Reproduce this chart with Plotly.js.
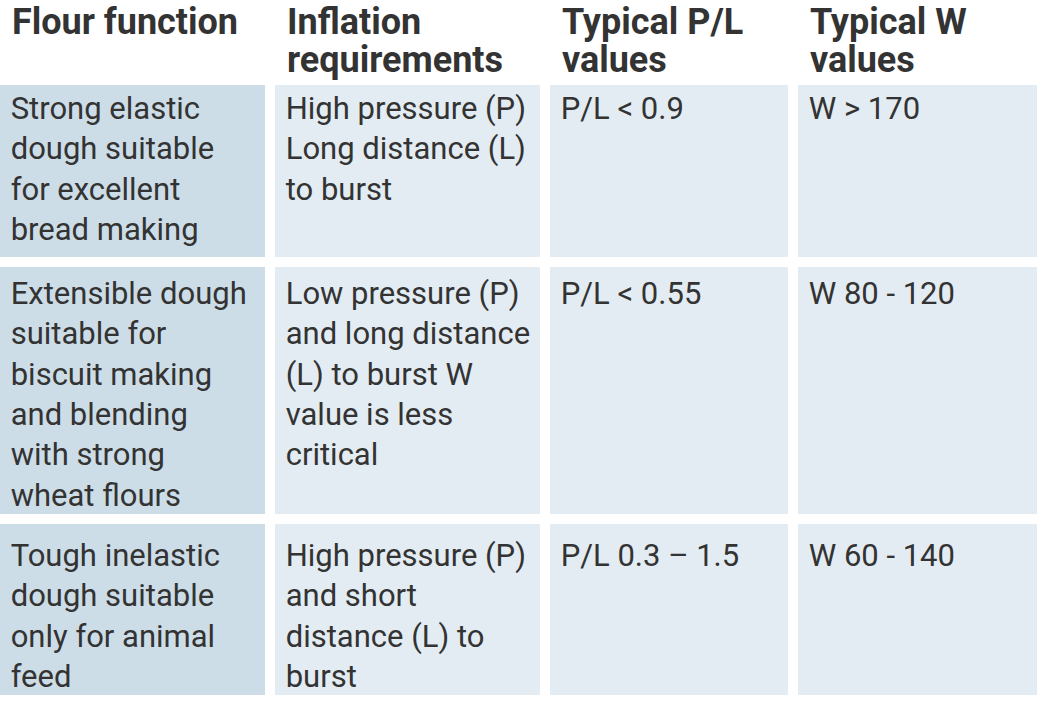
<!DOCTYPE html>
<html>
<head>
<meta charset="utf-8">
<script src="https://cdn.plot.ly/plotly-3.0.1.min.js"></script>
<style>
html, body { margin: 0; padding: 0; overflow: hidden; background: #ffffff; width: 1037px; height: 702px; position: relative; }
#chart { position: absolute; left: -5px; top: -20px; width: 1047px; height: 730px; }
</style>
</head>
<body>
<div id="chart"></div>
<script>
// ---- data ----
const headerLine1 = ["Flour function", "Inflation", "Typical P/L", "Typical W"];
const headerLine2 = ["", "requirements", "values", "values"];
const flourFunction = [
  "Strong elastic<br>dough suitable<br>for excellent<br>bread making",
  "Extensible dough<br>suitable for<br>biscuit making<br>and blending<br>with strong<br>wheat flours",
  "Tough inelastic<br>dough suitable<br>only for animal<br>feed"
];
const inflationRequirements = [
  "High pressure (P)<br>Long distance (L)<br>to burst",
  "Low pressure (P)<br>and long distance<br>(L) to burst W<br>value is less<br>critical",
  "High pressure (P)<br>and short<br>distance (L) to<br>burst"
];
const typicalPL = ["P/L < 0.9", "P/L < 0.55", "P/L 0.3 – 1.5"];
const typicalW = ["W > 170", "W 80 - 120", "W 60 - 140"];

// ---- styling / layout ----
const FIG_W = 1047, FIG_H = 730, OFFSET_Y = 20;
const firstColFill = "#cddde7";
const otherColFill = "#e3ecf2";
const textColor = "#333333";
const colWidths = [275, 275, 248, 249];
const PAD = "&nbsp;";
const headerTops = [-7, 31];          // page px of each header line box top
const rowTops = [80, 262, 519];       // page px of each row box top (incl. white border)
const rowHeights = [182, 257, 181];
const textTops = [82, 267, 529];      // page px where each row's text block starts
const EMPTY_HEADER = 16;
const CLEAR = "rgba(0,0,0,0)";

function padLines(s) { return PAD + s.split("<br>").join("<br>" + PAD); }
function domTop(pagePx) { return 1 - (pagePx + OFFSET_Y) / FIG_H; }

const columns = [flourFunction, inflationRequirements, typicalPL, typicalW];
const traces = [];
const noHeader = { values: [], fill: { color: CLEAR }, line: { color: CLEAR, width: 0 } };

// cell backgrounds
for (let i = 0; i < flourFunction.length; i++) {
  traces.push({
    type: "table",
    columnwidth: colWidths,
    header: noHeader,
    cells: {
      values: columns.map(function () { return [""]; }),
      height: rowHeights[i],
      fill: { color: [firstColFill, otherColFill, otherColFill, otherColFill] },
      line: { color: "#ffffff", width: 10 }
    },
    domain: { x: [0, 1], y: [0, domTop(rowTops[i] - EMPTY_HEADER)] }
  });
}

// cell texts
for (let i = 0; i < flourFunction.length; i++) {
  traces.push({
    type: "table",
    columnwidth: colWidths,
    header: noHeader,
    cells: {
      values: columns.map(function (col) { return [padLines(col[i])]; }),
      align: "left",
      height: 30,
      fill: { color: CLEAR },
      line: { color: CLEAR, width: 0 },
      font: { family: "Roboto", size: 31, color: textColor }
    },
    domain: { x: [0, 1], y: [0, domTop(textTops[i] - EMPTY_HEADER)] }
  });
}

// header lines
[headerLine1, headerLine2].forEach(function (line, k) {
  traces.push({
    type: "table",
    columnwidth: colWidths,
    header: {
      values: line.map(function (t) { return t ? PAD + t : ""; }),
      align: "left",
      height: 30,
      fill: { color: CLEAR },
      line: { color: CLEAR, width: 0 },
      font: { family: "Roboto", size: 36, color: textColor, weight: "bold" }
    },
    cells: { values: [] },
    domain: { x: [0, 1], y: [0, domTop(headerTops[k])] }
  });
});

Plotly.newPlot("chart", traces, {
  width: FIG_W,
  height: FIG_H,
  margin: { l: 0, r: 0, t: 0, b: 0, pad: 0 },
  paper_bgcolor: "#ffffff",
  font: { family: "Roboto" }
}, { displayModeBar: false, staticPlot: true });
</script>
</body>
</html>
